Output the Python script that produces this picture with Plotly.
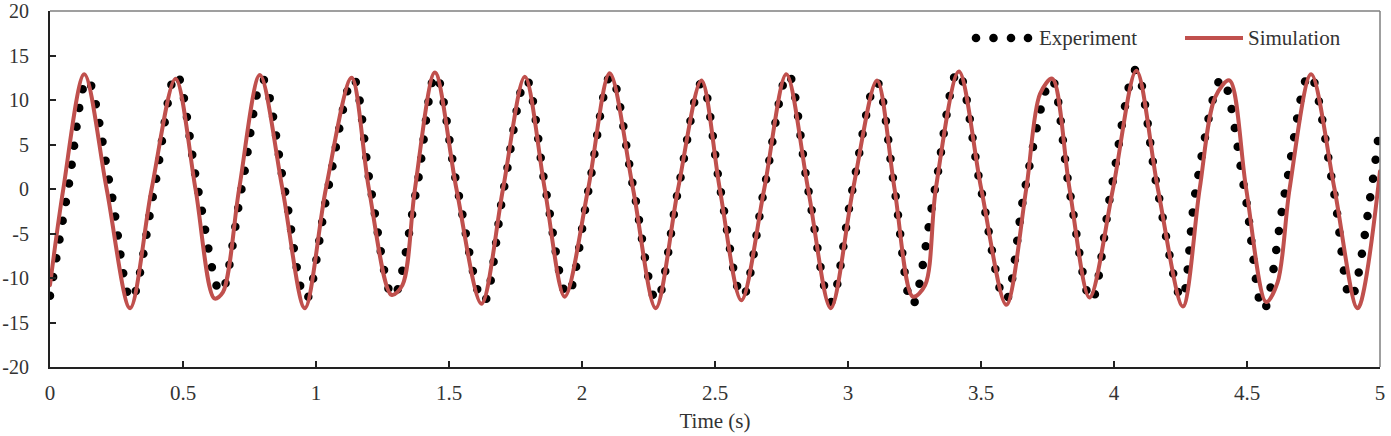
import plotly.graph_objects as go

# ---------------- data ----------------
sim_t = [0.000, 0.050, 0.129, 0.213, 0.301, 0.382, 0.472, 0.547, 0.618, 0.650,
         0.711, 0.789, 0.874, 0.958, 1.037, 1.134, 1.199, 1.284, 1.325, 1.372,
         1.447, 1.528, 1.622, 1.703, 1.785, 1.860, 1.935, 2.023, 2.104, 2.192,
         2.277, 2.361, 2.449, 2.518, 2.599, 2.685, 2.768, 2.850, 2.935, 3.019,
         3.109, 3.175, 3.244, 3.290, 3.330, 3.417, 3.501, 3.595, 3.670, 3.722,
         3.768, 3.833, 3.908, 3.996, 4.084, 4.165, 4.259, 4.322, 4.380, 4.434,
         4.497, 4.572, 4.615, 4.660, 4.741, 4.829, 4.916, 5.000]
sim_y = [-10.8, 0.0, 12.9, 0.0, -13.4, 0.0, 12.4, 0.0, -12.3, -11.6,
         0.0, 12.8, 0.0, -13.4, 0.0, 12.5, 0.0, -11.9, -10.8, 0.0,
         13.1, 0.0, -12.9, 0.0, 12.6, 0.0, -12.1, 0.0, 13.0, 0.0,
         -13.4, 0.0, 12.2, 0.0, -12.5, 0.0, 12.9, 0.0, -13.4, 0.0,
         12.2, 0.0, -12.1, -10.8, 0.0, 13.2, 0.0, -13.0, 0.0, 10.7,
         12.4, 0.0, -12.2, 0.0, 13.3, 0.0, -13.2, 0.0, 10.3, 12.2,
         0.0, -12.7, -10.5, 0.0, 12.9, 0.0, -13.4, 2.0]

exp_t = [0.000, 0.068, 0.140, 0.228, 0.305, 0.392, 0.475, 0.556, 0.642, 0.720,
         0.800, 0.882, 0.962, 1.045, 1.140, 1.206, 1.290, 1.378, 1.450, 1.532,
         1.630, 1.706, 1.790, 1.863, 1.945, 2.025, 2.108, 2.194, 2.280, 2.362,
         2.450, 2.520, 2.603, 2.685, 2.775, 2.850, 2.935, 3.017, 3.108, 3.175,
         3.242, 3.327, 3.413, 3.500, 3.592, 3.665, 3.765, 3.832, 3.915, 3.990,
         4.082, 4.163, 4.255, 4.308, 4.405, 4.490, 4.562, 4.645, 4.735, 4.825,
         4.890, 4.968, 5.000]
exp_y = [-12.0, 0.0, 12.3, 0.0, -12.4, 0.0, 12.9, 0.0, -11.6, 0.0,
         12.3, 0.0, -12.4, 0.0, 12.4, 0.0, -12.1, 0.0, 12.8, 0.0,
         -12.7, 0.0, 12.3, 0.0, -11.9, 0.0, 12.7, 0.0, -12.5, 0.0,
         11.9, 0.0, -12.1, 0.0, 12.9, 0.0, -12.7, 0.0, 12.0, 0.0,
         -13.0, 0.0, 13.2, 0.0, -12.5, 0.0, 12.3, 0.0, -12.5, 0.0,
         13.4, 0.0, -12.3, 0.0, 12.4, 0.0, -13.6, 0.0, 12.9, 0.0,
         -12.3, 0.0, 7.5]

x_ticks = [0, 0.5, 1, 1.5, 2, 2.5, 3, 3.5, 4, 4.5, 5]
x_tick_labels = ["0", "0.5", "1", "1.5", "2", "2.5", "3", "3.5", "4", "4.5", "5"]
y_ticks = [-20, -15, -10, -5, 0, 5, 10, 15, 20]
y_tick_labels = ["-20", "-15", "-10", "-5", "0", "5", "10", "15", "20"]

series_names = ["Experiment", "Simulation"]

# ---------------- styles ----------------
RED = "#C0504D"
FONT = "Liberation Serif, Times New Roman, serif"
TXT = "#333333"
FS = 21
W, H = 1391, 436
ML, MR, MT, MB = 50, 11, 11, 69

fig = go.Figure()
fig.add_trace(go.Scatter(
    x=exp_t, y=exp_y, name=series_names[0], mode="lines",
    line=dict(color="black", width=8.5, dash="0px,19px", shape="spline", smoothing=1.0),
    hoverinfo="skip"))
fig.add_trace(go.Scatter(
    x=sim_t, y=sim_y, name=series_names[1], mode="lines",
    line=dict(color=RED, width=4, shape="spline", smoothing=0.9),
    hoverinfo="skip"))

fig.update_layout(
    width=W, height=H,
    margin=dict(l=ML, r=MR, t=MT, b=MB, autoexpand=False),
    paper_bgcolor="white", plot_bgcolor="white",
    showlegend=False,
    font=dict(family=FONT, size=FS, color=TXT),
)
fig.update_xaxes(
    range=[0, 5], tickmode="array", tickvals=x_ticks, ticktext=x_tick_labels,
    ticks="inside", ticklen=6, tickwidth=1.5, tickcolor="#222",
    showline=True, linecolor="#222", linewidth=2, automargin=False,
    showgrid=False, zeroline=False, ticklabelstandoff=6, ticklabeloverflow="allow",
    title=dict(text="Time (s)", standoff=9, font=dict(family=FONT, size=FS, color=TXT)),
)
fig.update_yaxes(
    range=[-20, 20], tickmode="array", tickvals=y_ticks, ticktext=y_tick_labels,
    ticks="inside", ticklen=6, tickwidth=1.5, tickcolor="#222",
    showline=True, linecolor="#222", linewidth=2, automargin=False,
    showgrid=False, zeroline=False, ticklabelstandoff=15, ticklabeloverflow="allow",
    tickfont=dict(family=FONT, size=20, color=TXT),
)

# top / right frame lines (grey)
fig.add_shape(type="line", xref="paper", yref="paper", x0=0, x1=1, y0=1, y1=1,
              line=dict(color="#7f7f7f", width=1.5))
fig.add_shape(type="line", xref="paper", yref="paper", x0=1, x1=1, y0=0, y1=1,
              line=dict(color="#7f7f7f", width=1.5))

# ---------------- legend (drawn in paper space) ----------------
PW, PH = W - ML - MR, H - MT - MB
def px(xp):
    return (xp - ML) / PW
def py(yp):
    return (H - MB - yp) / PH

leg_y = 38
for cx in [976, 993.5, 1011, 1028]:
    r = 4.3
    fig.add_shape(type="circle", xref="paper", yref="paper",
                  x0=px(cx - r), x1=px(cx + r), y0=py(leg_y + r), y1=py(leg_y - r),
                  fillcolor="black", line=dict(width=0))
fig.add_annotation(x=px(1037), y=py(leg_y), xref="paper", yref="paper",
                   text=series_names[0], showarrow=False, xanchor="left", yanchor="middle",
                   font=dict(family=FONT, size=FS, color=TXT))
fig.add_shape(type="line", xref="paper", yref="paper",
              x0=px(1185), x1=px(1243), y0=py(leg_y), y1=py(leg_y),
              line=dict(color=RED, width=4))
fig.add_annotation(x=px(1246), y=py(leg_y), xref="paper", yref="paper",
                   text=series_names[1], showarrow=False, xanchor="left", yanchor="middle",
                   font=dict(family=FONT, size=FS, color=TXT))

post = ("var s=document.createElement('style');"
        "s.textContent='.scatterlayer path.js-line{stroke-linecap:round !important;stroke-linejoin:round !important;}';"
        "document.head.appendChild(s);")
fig.write_html("out.html", post_script=post)
